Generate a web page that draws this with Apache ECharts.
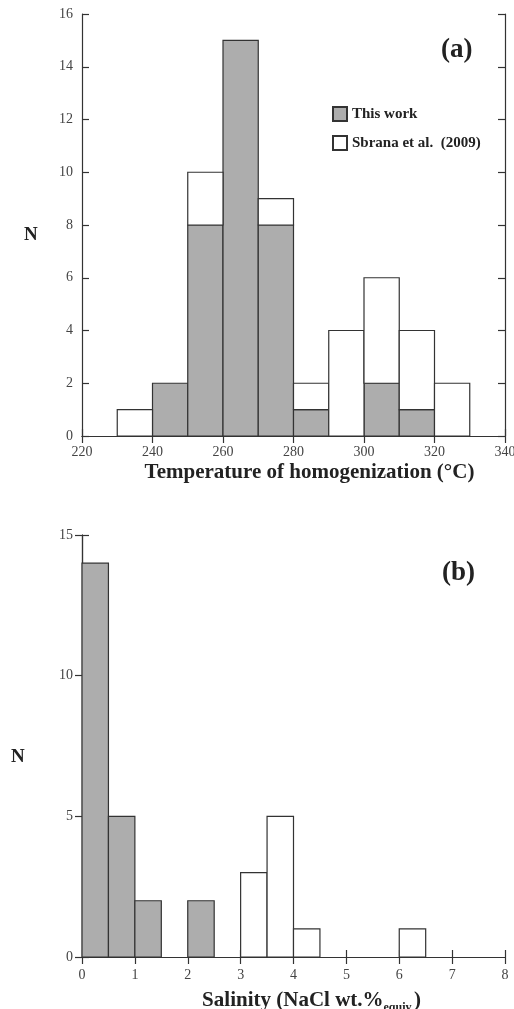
<!DOCTYPE html>
<html>
<head>
<meta charset="utf-8">
<script src="https://cdn.jsdelivr.net/npm/echarts@6/dist/echarts.min.js"></script>
<style>
  html, body { margin: 0; padding: 0; background: #fff; }
  #chart { width: 514px; height: 1009px; }
</style>
</head>
<body>
<div id="chart"></div>
<script>
// (a) homogenization temperature, bins of 10 °C (left edge)
const tempBins = [230, 240, 250, 260, 270, 280, 290, 300, 310, 320];
const tempThisWork = [0, 2, 8, 15, 8, 1, 0, 2, 1, 0];
const tempSbrana = [1, 0, 2, 0, 1, 1, 4, 4, 3, 2];
const tempWidth = 10;

// (b) salinity, bins of 0.5 wt.% (left edge)
const salBins = [0, 0.5, 1, 1.5, 2, 2.5, 3, 3.5, 4, 4.5, 5, 5.5, 6];
const salThisWork = [14, 5, 2, 0, 2, 0, 0, 0, 0, 0, 0, 0, 0];
const salSbrana = [0, 0, 0, 0, 0, 0, 3, 5, 1, 0, 0, 0, 1];
const salWidth = 0.5;

const SERIF = "'Liberation Serif', 'DejaVu Serif', serif";
const LINE = '#333';
const GRAY = '#adadad';

// build [x0, x1, y0, y1] rects, second series stacked on first
function rects(bins, width, base, vals) {
    const out = [];
    bins.forEach((b, i) => {
        const y0 = base ? base[i] : 0;
        if (vals[i] > 0) out.push([b, b + width, y0, y0 + vals[i]]);
    });
    return out;
}

function renderRect(params, api) {
    const p0 = api.coord([api.value(0), api.value(3)]);
    const p1 = api.coord([api.value(1), api.value(2)]);
    const st = api.style();
    return {
        type: 'rect',
        shape: {x: p0[0], y: p0[1], width: p1[0] - p0[0], height: p1[1] - p0[1]},
        style: {fill: st.fill, stroke: LINE, lineWidth: 1.2}
    };
}

function valAxis(grid, pos, min, max, interval, labels, extra) {
    return Object.assign({
        type: 'value', gridIndex: grid, position: pos, min: min, max: max, interval: interval,
        axisLine: {show: true, lineStyle: {color: LINE, width: 1.2}},
        axisTick: {show: true, inside: true, length: 7, lineStyle: {color: LINE, width: 1.2}},
        axisLabel: {show: labels, color: '#444', fontFamily: SERIF, fontSize: 14, margin: pos === 'bottom' && grid === 1 ? 11 : 9},
        splitLine: {show: false}
    }, extra || {});
}

const chart = echarts.init(document.getElementById('chart'));
chart.setOption({
    backgroundColor: '#fff',
    animation: false,
    grid: [
        {left: 82, top: 14, width: 423, height: 422, outerBoundsMode: 'none', containLabel: false},
        {left: 82, top: 535, width: 423, height: 422, outerBoundsMode: 'none', containLabel: false}
    ],
    xAxis: [
        valAxis(0, 'bottom', 220, 340, 20, true, {
            name: 'Temperature of homogenization (°C)', nameLocation: 'middle', nameGap: 26,
            nameTextStyle: {fontFamily: SERIF, fontWeight: 'bold', fontSize: 21, color: '#222', padding: [0, 0, 0, 32]}
        }),
        valAxis(0, 'top', 220, 340, 20, false),
        valAxis(1, 'bottom', 0, 8, 1, true, {
            name: '{m|Salinity (NaCl wt.%}{s|equiv.}{m|)}', nameLocation: 'middle', nameGap: 31,
            nameTextStyle: {
                padding: [0, 0, 0, 36],
                rich: {
                    m: {fontFamily: SERIF, fontWeight: 'bold', fontSize: 21, color: '#222'},
                    s: {fontFamily: SERIF, fontWeight: 'bold', fontSize: 12, color: '#222', verticalAlign: 'bottom', padding: [14, 0, 0, 0]}
                }
            }
        }),
        valAxis(1, 'top', 0, 8, 1, false)
    ],
    yAxis: [
        valAxis(0, 'left', 0, 16, 2, true),
        valAxis(0, 'right', 0, 16, 2, false),
        valAxis(1, 'left', 0, 15, 5, true),
        valAxis(1, 'right', 0, 15, 5, false)
    ],
    legend: {
        orient: 'vertical', left: 327, top: 101, itemWidth: 14, itemHeight: 14, itemGap: 13,
        icon: 'rect',
        textStyle: {fontFamily: SERIF, fontWeight: 'bold', fontSize: 15, color: '#222'},
        data: ['This work', 'Sbrana et al.  (2009)']
    },
    graphic: [
        {type: 'text', left: 24, top: 226, style: {text: 'N', font: 'bold 19px ' + SERIF, fill: '#222'}},
        {type: 'text', left: 11, top: 748, style: {text: 'N', font: 'bold 19px ' + SERIF, fill: '#222'}},
        {type: 'text', left: 441, top: 37, style: {text: '(a)', font: 'bold 27px ' + SERIF, fill: '#222'}},
        {type: 'text', left: 442, top: 560, style: {text: '(b)', font: 'bold 27px ' + SERIF, fill: '#222'}}
    ],
    series: [
        {
            name: 'This work', type: 'custom', xAxisIndex: 0, yAxisIndex: 0,
            renderItem: renderRect, encode: {x: [0, 1], y: [2, 3]},
            itemStyle: {color: GRAY, borderColor: LINE, borderWidth: 1},
            data: rects(tempBins, tempWidth, null, tempThisWork)
        },
        {
            name: 'Sbrana et al.  (2009)', type: 'custom', xAxisIndex: 0, yAxisIndex: 0,
            renderItem: renderRect, encode: {x: [0, 1], y: [2, 3]},
            itemStyle: {color: '#fff', borderColor: LINE, borderWidth: 1},
            data: rects(tempBins, tempWidth, tempThisWork, tempSbrana)
        },
        {
            name: 'This work', type: 'custom', xAxisIndex: 2, yAxisIndex: 2,
            renderItem: renderRect, encode: {x: [0, 1], y: [2, 3]},
            itemStyle: {color: GRAY, borderColor: LINE, borderWidth: 1},
            data: rects(salBins, salWidth, null, salThisWork)
        },
        {
            name: 'Sbrana et al.  (2009)', type: 'custom', xAxisIndex: 2, yAxisIndex: 2,
            renderItem: renderRect, encode: {x: [0, 1], y: [2, 3]},
            itemStyle: {color: '#fff', borderColor: LINE, borderWidth: 1},
            data: rects(salBins, salWidth, salThisWork, salSbrana)
        }
    ]
});
</script>
</body>
</html>
